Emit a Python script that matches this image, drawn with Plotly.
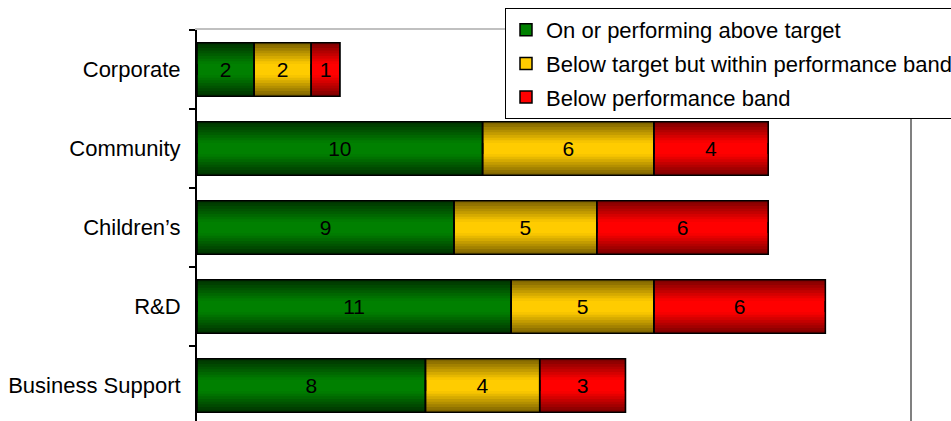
import numpy as np
import plotly.graph_objects as go

categories = ["Business Support", "R&D", "Children\u2019s", "Community", "Corporate"]
on_target = [8, 11, 9, 10, 2]
within_band = [4, 5, 5, 6, 2]
below_band = [3, 6, 6, 4, 1]
series_names = ["On or performing above target",
                "Below target but within performance band",
                "Below performance band"]

series_values = [on_target, within_band, below_band]
bright = [(0, 128, 0), (255, 204, 0), (255, 0, 0)]
dark = [(0, 48, 0), (120, 95, 0), (120, 0, 0)]

FONT = "Liberation Sans, Arial, sans-serif"
BAR_W = 0.68
HALF = BAR_W / 2
N_STEPS = 8
FADE = 0.27


def mix(c1, c2, t):
    return "rgb(%d,%d,%d)" % tuple(round(a + (b - a) * t) for a, b in zip(c1, c2))


fig = go.Figure()
bases = np.zeros(len(categories))
fill_traces = []
outline_traces = []
for i, (name, vals) in enumerate(zip(series_names, series_values)):
    vals = np.array(vals, dtype=float)
    base = bases.copy()
    fill_traces.append(go.Bar(
        y=categories, x=vals, base=base, orientation="h", name=name,
        width=BAR_W, offset=-HALF, legendgroup=name,
        marker=dict(color=mix(bright[i], bright[i], 0), line=dict(color="black", width=1.5)),
        hoverinfo="skip", showlegend=True))
    for k in range(N_STEPS):
        t = FADE * (N_STEPS - k) / N_STEPS
        darkness = (k + 0.5) / N_STEPS
        col = mix(bright[i], dark[i], darkness)
        for off in (-HALF, HALF - t):
            fill_traces.append(go.Bar(
                y=categories, x=vals, base=base, orientation="h",
                width=t, offset=off, legendgroup=name,
                marker=dict(color=col, line=dict(width=0)),
                hoverinfo="skip", showlegend=False))
    outline_traces.append(go.Bar(
        y=categories, x=vals, base=base, orientation="h",
        width=BAR_W, offset=-HALF, legendgroup=name,
        marker=dict(color="rgba(0,0,0,0)", line=dict(color="black", width=1.5)),
        text=[str(int(v)) for v in vals], textposition="inside",
        insidetextanchor="middle", textangle=0, constraintext="none",
        textfont=dict(family=FONT, size=21, color="black"),
        hoverinfo="skip", showlegend=False))
    bases = bases + vals

for tr in fill_traces + outline_traces:
    fig.add_trace(tr)

n_cat = len(categories)
fig.update_layout(
    width=951, height=421,
    margin=dict(l=197, r=40, t=30, b=0, autoexpand=False),
    barmode="overlay",
    plot_bgcolor="white", paper_bgcolor="white",
    font=dict(family=FONT, size=22, color="black"),
    showlegend=True,
    legend=dict(x=(505 - 197) / 714, y=(421 - 8) / 391, xanchor="left", yanchor="top",
                bordercolor="black", borderwidth=1, bgcolor="white",
                font=dict(family=FONT, size=22, color="black"),
                traceorder="grouped", tracegroupgap=2, itemwidth=30),
    xaxis=dict(range=[0, 25], side="top", showline=True, linecolor="#c0c0c0", linewidth=2,
               showgrid=False, zeroline=False, showticklabels=False, ticks=""),
    yaxis=dict(type="category", categoryorder="array", categoryarray=categories,
               range=[n_cat - 0.5 - 391 / 79, n_cat - 0.5],
               showline=True, linecolor="black", linewidth=2,
               ticks="outside", tickson="boundaries", ticklen=6, tickcolor="black", tickwidth=2,
               showgrid=False, zeroline=False,
               tickfont=dict(family=FONT, size=22, color="black"), ticklabelstandoff=10),
    shapes=[dict(type="line", xref="paper", yref="paper", x0=1, x1=1, y0=0, y1=1,
                 line=dict(color="#808080", width=2), layer="below")],
)

fig.write_html("out.html")
